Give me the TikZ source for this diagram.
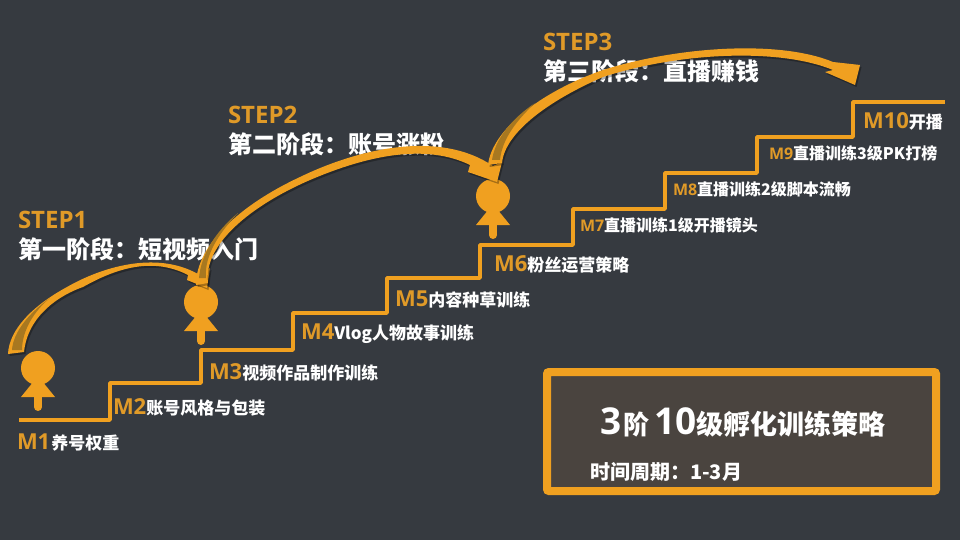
\documentclass[tikz,border=0pt]{standalone}
\usepackage{fontspec}
\setmainfont{Open Sans}
\newfontfamily\cjk{Noto Sans CJK SC}
\definecolor{bgc}{HTML}{363A40}
\definecolor{org}{HTML}{F0A020}
\definecolor{lat}{HTML}{E09A28}
\definecolor{dkorg}{HTML}{A87820}
\definecolor{boxc}{HTML}{4A443F}
\newcommand{\Ml}[2]{{\fontsize{#1}{#1}\selectfont\bfseries\color{lat}#2}}
\newcommand{\Cl}[2]{{\fontsize{#1}{#1}\cjk\bfseries\color{white}#2}}
\newcommand{\person}[3]{%
  \fill[org] (#2-4,#3+25) rectangle (#2+4,#3+39);
  \fill[org] (#2,#3+39) circle (4);
  \fill[org] (#2,#3+8) -- (#2+17,#3+29) -- (#2-17,#3+29) -- cycle;
  \node[headc] (#1) at (#2,#3) {};}
\newcommand{\arrowA}{(8,354) .. controls (9,330) and (32,306) .. (67,287) .. controls (100,268) and (155,250) .. (198,274) -- (210,268) -- (207,288) -- (187,280) -- (188,275) .. controls (155,258) and (120,266) .. (83,287) .. controls (60,295) and (28,315) .. (24,352) -- cycle}
\newcommand{\arrowB}{(196,285) .. controls (196,245) and (240,205) .. (300,177) .. controls (360,148) and (440,130) .. (493,166) -- (502,162) -- (497,182) -- (468,172) -- (470,165) .. controls (435,148) and (385,148) .. (310,180) .. controls (250,206) and (203,245) .. (208,283) -- cycle}
\newcommand{\arrowC}{(488,165) .. controls (492,130) and (540,92) .. (603,70) .. controls (680,46) and (780,40) .. (833,62) -- (860,65) -- (855,85) -- (825,72) -- (833,70) .. controls (780,48) and (680,52) .. (603,77) .. controls (550,100) and (505,132) .. (502,163) -- cycle}
\tikzset{
  headc/.style={circle,fill=org,minimum size=34pt,inner sep=0pt,outer sep=0pt},
  lab/.style={anchor=west,inner sep=0pt,outer sep=0pt},
  stair/.style={draw=org,line width=3.6pt,line join=round},
  ribbon/.style={fill=org},
  ribshadow/.style={fill=black,opacity=.3,shift={(1.5,2)}}
}
\begin{document}
\begin{tikzpicture}[x=1pt,y=-1pt]
\useasboundingbox (0,0) rectangle (960,540);
\fill[bgc] (0,0) rectangle (960,540);
% stairs
\draw[stair] (19,420) -- (110,420) |- (201,383) |- (293,350) |- (387,313) |- (480,278) |- (573,245) |- (665,209) |- (757,173) |- (853,137) |- (945,102);
% box
\node[draw=org,line width=8pt,fill=boxc,rounded corners=2pt,minimum width=389pt,minimum height=119pt,inner sep=0pt,anchor=north west] (box) at (543,368) {};
% persons
\person{p1}{38}{368}
\person{p2}{201}{302}
\person{p3}{493}{196}
% labels
\node[lab] (m1) at (17,442) {\Ml{22}{M1}\hspace{1pt}\Cl{17}{养号权重}};
\node[lab] (m2) at (113,407) {\Ml{22}{M2}\Cl{17}{账号风格与包装}};
\node[lab] (m3) at (209,372) {\Ml{22}{M3}\Cl{17}{视频作品制作训练}};
\node[lab] (m4) at (301,334) {\Ml{22}{M4}\Cl{17}{Vlog人物故事训练}};
\node[lab] (m5) at (395,299) {\Ml{22}{M5}\Cl{17}{内容种草训练}};
\node[lab] (m6) at (494,264) {\Ml{22}{M6}\Cl{17}{粉丝运营策略}};
\node[lab] (m7) at (580,225) {\Ml{16}{M7}\Cl{16}{直播训练1级开播镜头}};
\node[lab] (m8) at (673,189) {\Ml{16}{M8}\Cl{16}{直播训练2级脚本流畅}};
\node[lab] (m9) at (769,153) {\Ml{16}{M9}\Cl{16}{直播训练3级PK打榜}};
\node[lab] (m10) at (863,121) {\Ml{22}{M10}\Cl{17}{开播}};
\node[lab] (s1) at (18,220) {\Ml{24}{STEP1}};
\node[lab] (t1) at (18,249) {\Cl{24}{第一阶段：短视频入门}};
\node[lab] (s2) at (228,115) {\Ml{24}{STEP2}};
\node[lab] (t2) at (228,144) {\Cl{24}{第二阶段：账号涨粉}};
\node[lab] (s3) at (543,42) {\Ml{24}{STEP3}};
\node[lab] (t3) at (543,71) {\Cl{24}{第三阶段：直播赚钱}};
\node[lab] (title) at (600,422) {{\fontsize{37}{37}\selectfont\bfseries\color{white}3}\hspace{2pt}\Cl{26}{阶}\hspace{5pt}{\fontsize{37}{37}\selectfont\bfseries\color{white}10}\Cl{27}{级孵化训练策略}};
\node[lab] (period) at (590,472) {\Cl{20}{时间周期：1-3月}};
% arrows
\fill[ribshadow] \arrowA;
\fill[ribbon] \arrowA;
\fill[dkorg] (12,350) .. controls (13,332) and (30,312) .. (50,298) .. controls (35,310) and (22,330) .. (22,350) -- cycle;
\fill[ribshadow] \arrowB;
\fill[ribbon] \arrowB;
\fill[dkorg] (199,278) .. controls (201,255) and (215,232) .. (238,213) .. controls (220,232) and (204,255) .. (206,278) -- cycle;
\fill[ribshadow] \arrowC;
\fill[ribbon] \arrowC;
\fill[dkorg] (492,160) .. controls (495,140) and (510,120) .. (535,103) .. controls (515,122) and (502,140) .. (500,160) -- cycle;
\end{tikzpicture}
\end{document}
